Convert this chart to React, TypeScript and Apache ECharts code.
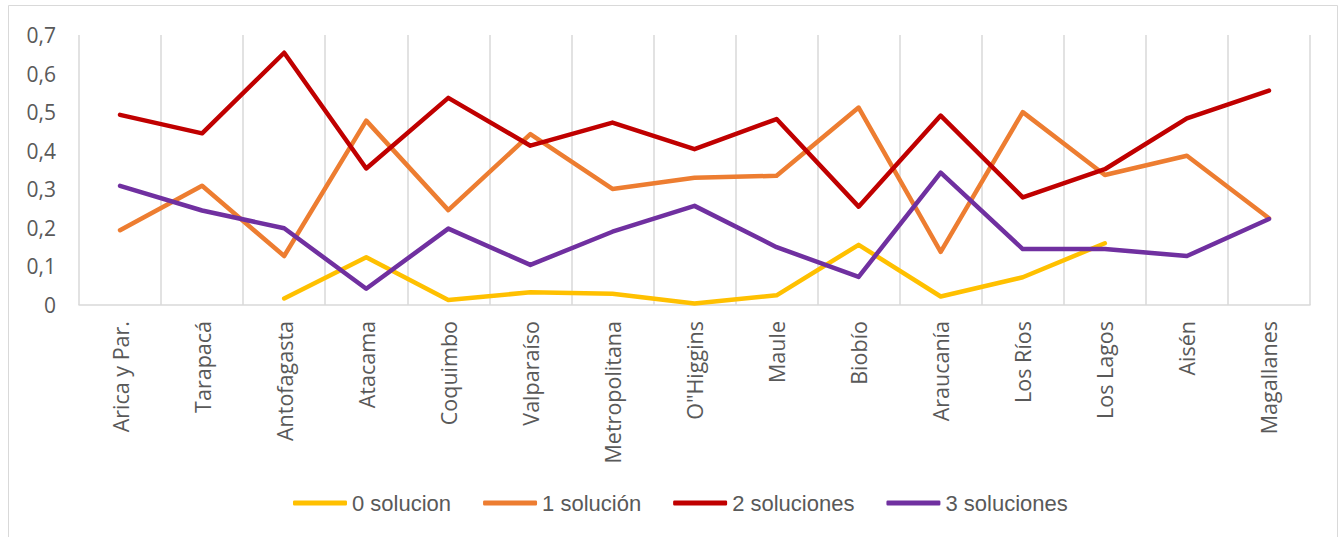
import React, { useEffect, useRef } from "react";
import * as echarts from "echarts";

const categories = [
  "Arica y Par.", "Tarapacá", "Antofagasta", "Atacama", "Coquimbo", "Valparaíso",
  "Metropolitana", "O\"Higgins", "Maule", "Biobío", "Araucanía", "Los Ríos",
  "Los Lagos", "Aisén", "Magallanes",
];
const seriesNames = ["0 solucion", "1 solución", "2 soluciones", "3 soluciones"];
const cero = [null, null, 0.017, 0.124, 0.013, 0.033, 0.029, 0.004, 0.025, 0.156, 0.022, 0.072, 0.160, null, null];
const una = [0.194, 0.309, 0.127, 0.478, 0.246, 0.443, 0.301, 0.330, 0.335, 0.512, 0.138, 0.500, 0.337, 0.387, 0.225];
const dos = [0.493, 0.445, 0.654, 0.354, 0.537, 0.413, 0.473, 0.404, 0.482, 0.255, 0.491, 0.279, 0.352, 0.484, 0.556];
const tres = [0.309, 0.245, 0.199, 0.042, 0.198, 0.104, 0.190, 0.257, 0.150, 0.073, 0.343, 0.145, 0.145, 0.127, 0.223];
const yTicks = [0, 0.1, 0.2, 0.3, 0.4, 0.5, 0.6, 0.7];

const colors = ["#FFC000", "#ED7D31", "#C00000", "#7030A0"];

export default function App() {
  const ref = useRef<HTMLDivElement>(null);
  useEffect(() => {
    if (!ref.current) return;
    const chart = echarts.init(ref.current, null, { renderer: "svg" });
    const data = [cero, una, dos, tres];
    chart.setOption({
      animation: false,
      backgroundColor: "#ffffff",
      color: colors,
      grid: { left: 79, right: 30, top: 35, bottom: 232 },
      graphic: [
        {
          type: "rect",
          shape: { x: 8.5, y: 5.5, width: 1329, height: 545 },
          style: { fill: "none", stroke: "#d9d9d9", lineWidth: 1 },
          silent: true,
        },
      ],
      legend: {
        left: 288,
        top: 487,
        itemWidth: 54,
        itemHeight: 5,
        itemGap: 32,
        icon: "roundRect",
        data: seriesNames,
        textStyle: {
          color: "#595959",
          fontSize: 22,
          fontFamily: "Liberation Sans Narrow, Arial Narrow, sans-serif",
        },
      },
      xAxis: {
        type: "category",
        data: categories,
        boundaryGap: true,
        axisLine: { show: true, lineStyle: { color: "#d9d9d9", width: 1.5 } },
        axisTick: { show: false },
        splitLine: { show: true, lineStyle: { color: "#d9d9d9", width: 1.5 } },
        axisLabel: {
          rotate: 90,
          interval: 0,
          margin: 16,
          color: "#595959",
          fontSize: 21.5,
          fontFamily: "Open Sans, sans-serif",
        },
      },
      yAxis: {
        type: "value",
        min: yTicks[0],
        max: yTicks[yTicks.length - 1],
        interval: 0.1,
        axisLine: { show: false },
        axisTick: { show: false },
        splitLine: { show: false },
        axisLabel: {
          margin: 23,
          color: "#595959",
          fontSize: 21,
          fontFamily: "Open Sans, sans-serif",
          formatter: (v: number) => (v === 0 ? "0" : v.toFixed(1).replace(".", ",")),
        },
      },
      series: seriesNames.map((name, i) => ({
        name,
        type: "line",
        data: data[i],
        showSymbol: false,
        symbol: "none",
        connectNulls: false,
        lineStyle: { width: 4.5, color: colors[i], cap: "round", join: "round" },
        itemStyle: { color: colors[i] },
      })),
    });
    return () => chart.dispose();
  }, []);
  return (
    <div
      ref={ref}
      style={{ position: "absolute", left: 0, top: 0, width: 1340, height: 537 }}
    />
  );
}
